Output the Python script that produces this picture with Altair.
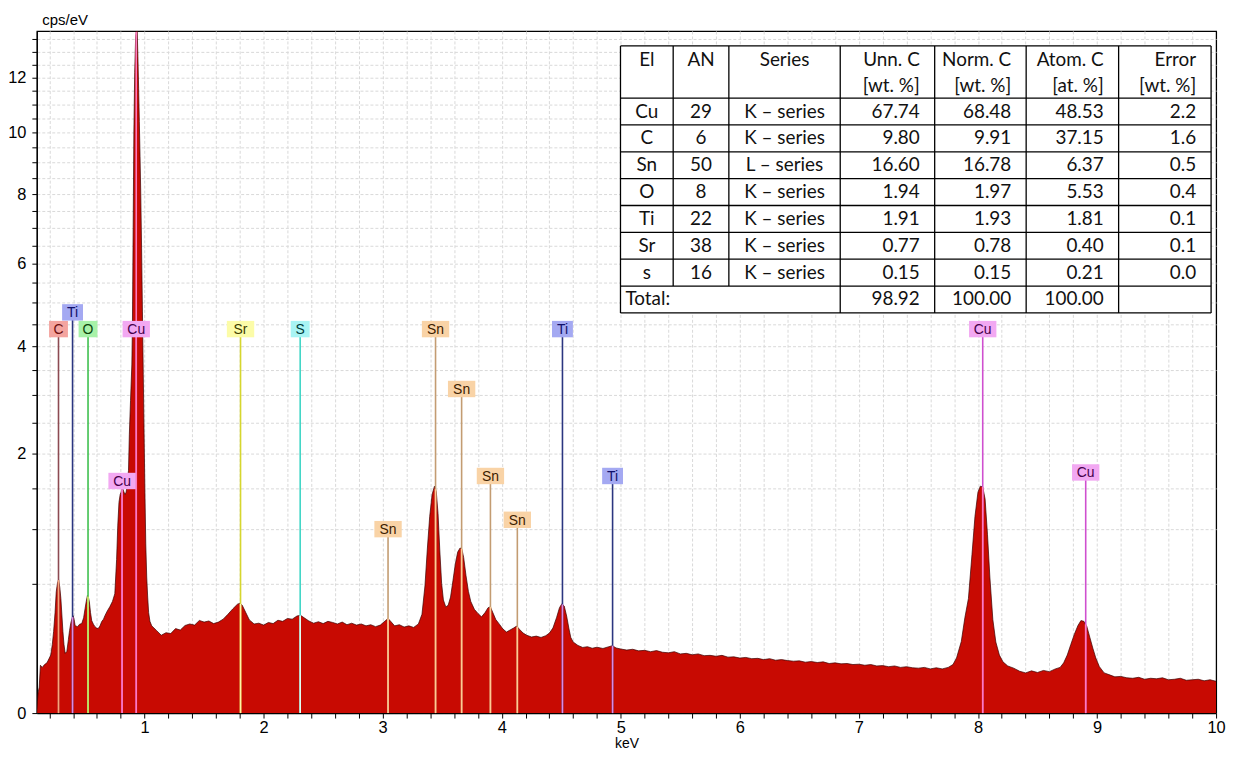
import altair as alt
import numpy as np
import pandas as pd

# ---------------- spectrum data ----------------
e_low = [0.095, 0.100, 0.105, 0.115, 0.125, 0.140, 0.160, 0.180, 0.200, 0.212,
         0.225, 0.236, 0.248, 0.258, 0.268, 0.278, 0.288, 0.297, 0.306, 0.314,
         0.323, 0.333, 0.347, 0.360, 0.370, 0.380, 0.390, 0.400, 0.408, 0.417,
         0.436, 0.455, 0.472, 0.488, 0.500, 0.510, 0.520, 0.528, 0.536, 0.546,
         0.556, 0.570, 0.583, 0.597, 0.610, 0.625, 0.640, 0.655, 0.667, 0.687,
         0.708, 0.730, 0.750]
c_low = [0.0, 0.004, 0.012, 0.020, 0.068, 0.062, 0.070, 0.075, 0.090, 0.100,
         0.140, 0.198, 0.300, 0.437, 0.500, 0.528, 0.470, 0.389, 0.280, 0.198,
         0.140, 0.106, 0.113, 0.160, 0.203, 0.240, 0.265, 0.282, 0.260, 0.227,
         0.222, 0.235, 0.238, 0.270, 0.324, 0.370, 0.410, 0.400, 0.369, 0.300,
         0.254, 0.235, 0.222, 0.215, 0.212, 0.225, 0.249, 0.262, 0.282, 0.310,
         0.336, 0.370, 0.423]

e_cul = [0.765, 0.775, 0.785, 0.795, 0.805, 0.815, 0.825, 0.835, 0.845, 0.855,
         0.865, 0.872, 0.882, 0.893, 0.898, 0.904, 0.910, 0.917, 0.925, 0.931,
         0.938, 0.944, 0.950, 0.956, 0.962, 0.968, 0.975, 0.982, 0.989, 0.996,
         1.003, 1.010, 1.018, 1.026, 1.034, 1.045]
c_cul = [0.70, 1.05, 1.32, 1.42, 1.46, 1.50, 1.46, 1.42, 1.45, 1.58,
         1.75, 2.30, 2.90, 3.60, 4.50, 7.00, 10.0, 12.2, 13.6, 13.82,
         13.82, 12.8, 11.6, 10.4, 9.2, 8.0, 6.4, 4.8, 3.4, 2.3,
         1.45, 0.85, 0.55, 0.40, 0.30, 0.25]

e_mid = [1.06, 1.10, 1.14, 1.18, 1.22, 1.26, 1.30, 1.34, 1.38, 1.42,
         1.46, 1.50, 1.54, 1.58, 1.62, 1.66, 1.70, 1.74, 1.78, 1.80,
         1.82, 1.85, 1.88, 1.92, 1.96, 2.00, 2.04, 2.08, 2.12, 2.16,
         2.20, 2.24, 2.28, 2.31, 2.34, 2.38, 2.42, 2.46, 2.50, 2.54,
         2.58, 2.62, 2.66, 2.70, 2.74, 2.78, 2.82, 2.86, 2.90, 2.94,
         2.98, 3.02, 3.045, 3.07, 3.10, 3.14, 3.18, 3.22, 3.26, 3.30]
c_mid = [0.226, 0.203, 0.180, 0.192, 0.188, 0.212, 0.205, 0.228, 0.236, 0.230,
         0.255, 0.246, 0.252, 0.238, 0.246, 0.262, 0.290, 0.322, 0.352, 0.358,
         0.346, 0.300, 0.258, 0.236, 0.240, 0.230, 0.244, 0.238, 0.256, 0.250,
         0.266, 0.262, 0.280, 0.284, 0.270, 0.252, 0.240, 0.248, 0.238, 0.250,
         0.244, 0.236, 0.246, 0.232, 0.240, 0.230, 0.236, 0.226, 0.232, 0.222,
         0.230, 0.252, 0.266, 0.248, 0.226, 0.232, 0.220, 0.226, 0.218, 0.236]

e_sn = [3.33, 3.355, 3.375, 3.395, 3.415, 3.435, 3.45, 3.465, 3.48, 3.495,
        3.51, 3.53, 3.55, 3.57, 3.59, 3.61, 3.63, 3.65, 3.665, 3.68,
        3.70, 3.72, 3.74, 3.77, 3.80, 3.83, 3.86, 3.885, 3.905, 3.925,
        3.95, 3.98, 4.01, 4.04, 4.07, 4.10, 4.125, 4.15, 4.18, 4.21,
        4.25, 4.29, 4.33, 4.37, 4.40, 4.43, 4.46, 4.485, 4.505, 4.525,
        4.545, 4.565, 4.58]
c_sn = [0.290, 0.48, 0.80, 1.15, 1.42, 1.53, 1.46, 1.18, 0.78, 0.50,
        0.38, 0.335, 0.345, 0.40, 0.52, 0.66, 0.77, 0.81, 0.80, 0.72,
        0.56, 0.44, 0.37, 0.32, 0.295, 0.275, 0.30, 0.33, 0.335, 0.30,
        0.26, 0.235, 0.21, 0.195, 0.205, 0.215, 0.225, 0.208, 0.190, 0.180,
        0.172, 0.176, 0.170, 0.178, 0.190, 0.215, 0.27, 0.33, 0.355, 0.34,
        0.28, 0.21, 0.17]

e_hi = [4.60, 4.64, 4.68, 4.72, 4.76, 4.80, 4.85, 4.90, 4.93, 4.96,
        5.00, 5.05, 5.10, 5.15, 5.20, 5.25, 5.30, 5.35, 5.40, 5.45,
        5.50, 5.55, 5.60, 5.65, 5.70, 5.75, 5.80, 5.85, 5.90, 5.95,
        6.00, 6.05, 6.10, 6.15, 6.20, 6.25, 6.30, 6.35, 6.40, 6.45,
        6.50, 6.55, 6.60, 6.65, 6.70, 6.75, 6.80, 6.85, 6.90, 6.95,
        7.00, 7.05, 7.10, 7.15, 7.20, 7.25, 7.30, 7.35, 7.40, 7.45,
        7.50, 7.55, 7.60, 7.65, 7.70, 7.75, 7.79]
c_hi = [0.150, 0.136, 0.128, 0.131, 0.125, 0.129, 0.124, 0.131, 0.135, 0.126,
        0.122, 0.118, 0.121, 0.115, 0.117, 0.112, 0.116, 0.110, 0.108, 0.112,
        0.104, 0.106, 0.101, 0.104, 0.098, 0.099, 0.096, 0.099, 0.093, 0.094,
        0.090, 0.092, 0.088, 0.089, 0.085, 0.088, 0.083, 0.085, 0.082, 0.080,
        0.081, 0.077, 0.079, 0.076, 0.078, 0.073, 0.075, 0.072, 0.073, 0.070,
        0.071, 0.068, 0.070, 0.066, 0.067, 0.064, 0.066, 0.062, 0.064, 0.061,
        0.060, 0.062, 0.058, 0.061, 0.058, 0.062, 0.070]

e_cuk = [7.82, 7.86, 7.89, 7.92, 7.95, 7.975, 8.00, 8.02, 8.04, 8.06,
         8.08, 8.10, 8.125, 8.15, 8.18, 8.21, 8.25, 8.30, 8.35, 8.40,
         8.45, 8.50, 8.55, 8.60, 8.65, 8.69, 8.72, 8.75, 8.78, 8.81,
         8.84, 8.865, 8.89, 8.915, 8.94, 8.965, 8.99, 9.02, 9.06, 9.10,
         9.15, 9.20, 9.25, 9.30, 9.35, 9.40, 9.45, 9.50, 9.55, 9.60,
         9.65, 9.70, 9.75, 9.80, 9.85, 9.90, 9.95, 10.0]
c_cuk = [0.090, 0.152, 0.270, 0.390, 0.750, 1.150, 1.450, 1.530, 1.520, 1.360,
         0.950, 0.550, 0.260, 0.150, 0.100, 0.078, 0.066, 0.060, 0.052, 0.048,
         0.053, 0.049, 0.054, 0.051, 0.058, 0.062, 0.075, 0.100, 0.140, 0.185,
         0.228, 0.254, 0.250, 0.222, 0.170, 0.125, 0.090, 0.064, 0.048, 0.044,
         0.039, 0.040, 0.037, 0.036, 0.038, 0.034, 0.036, 0.035, 0.037, 0.033,
         0.034, 0.036, 0.032, 0.033, 0.034, 0.031, 0.033, 0.030]

# ---------------- element lines ----------------
line_el = ["C", "Ti", "O", "Cu", "Cu", "Sr", "S", "Sn", "Sn", "Sn", "Sn", "Sn",
           "Ti", "Ti", "Cu", "Cu"]
line_energy = [0.277, 0.395, 0.525, 0.811, 0.930, 1.806, 2.307, 3.045, 3.444,
               3.663, 3.905, 4.131, 4.510, 4.931, 8.040, 8.905]
label_level = [4.38, 4.77, 4.38, 1.60, 4.38, 4.38, 4.38, 1.005, 4.38,
               3.12, 1.67, 1.11, 4.38, 1.67, 4.38, 1.72]

# ---------------- quantification table ----------------
tab_el = ["Cu", "C", "Sn", "O", "Ti", "Sr", "s"]
tab_an = ["29", "6", "50", "8", "22", "38", "16"]
tab_series = ["K – series", "K – series", "L – series", "K – series",
              "K – series", "K – series", "K – series"]
tab_unn = ["67.74", "9.80", "16.60", "1.94", "1.91", "0.77", "0.15"]
tab_norm = ["68.48", "9.91", "16.78", "1.97", "1.93", "0.78", "0.15"]
tab_atom = ["48.53", "37.15", "6.37", "5.53", "1.81", "0.40", "0.21"]
tab_err = ["2.2", "1.6", "0.5", "0.4", "0.1", "0.1", "0.0"]
tab_total = ["98.92", "100.00", "100.00", ""]
tab_head1 = ["El", "AN", "Series", "Unn. C", "Norm. C", "Atom. C", "Error"]
tab_head2 = ["", "", "", "[wt. %]", "[wt. %]", "[at. %]", "[wt. %]"]

# ---------------- styles / layout ----------------
W, H = 1186, 686
FONT_AX = "Liberation Sans, Arial, sans-serif"
FONT_TAB = "Lato, Open Sans, sans-serif"
style = {
    "C":  dict(box="#f4a49f", text="#6e0f0f", line="#8c4a52", inner="#f7a57a"),
    "Ti": dict(box="#a4a9f2", text="#10106a", line="#2b3680", inner="#d98be6"),
    "O":  dict(box="#a8f2a8", text="#0b440b", line="#3fc04f", inner="#d6f06a"),
    "Cu": dict(box="#f2a8f2", text="#45004a", line="#cf4fcf", inner="#ff7ac0"),
    "Sr": dict(box="#fcfca8", text="#3c3c00", line="#d6d62e", inner="#fff6a6"),
    "S":  dict(box="#a8f4f4", text="#003c3c", line="#3fd6c6", inner="#e6fff4"),
    "Sn": dict(box="#f9d3a6", text="#3c2000", line="#c39c72", inner="#ffca92"),
}


def box_path(el):
    hw = 1.9 if len(el) == 1 else (2.1 if el == "Ti" else 2.75)
    return f"M-{hw},-1.65L{hw},-1.65L{hw},1.65L-{hw},1.65Z"


spec = pd.DataFrame({"E": e_low + e_cul + e_mid + e_sn + e_hi + e_cuk,
                     "v": c_low + c_cul + c_mid + c_sn + c_hi + c_cuk})

mk = pd.DataFrame({"el": line_el, "E": line_energy, "level": label_level})
mk["base"] = 0.0
mk["inside"] = np.interp(mk["E"], spec["E"], spec["v"])
for k in ["box", "text", "line", "inner"]:
    mk[k] = mk["el"].map(lambda e, k=k: style[e][k])
mk["path"] = mk["el"].map(box_path)

xs = alt.Scale(domain=[0.095, 10.0], nice=False, zero=False)
ys = alt.Scale(type="sqrt", domain=[0, 13.82], nice=False)
x_ticks = [round(0.2 * i, 1) for i in range(1, 51)]
y_ticks = [0.5 * i for i in range(0, 28)]

grid_col_x = {"condition": {"test": "datum.value >= 9.99", "value": "black"}, "value": "#d9d9d9"}
grid_dash_x = {"condition": {"test": "datum.value >= 9.99", "value": []}, "value": [3, 2]}

xaxis = alt.Axis(values=x_ticks, tickCount=50,
                 labelExpr="abs(datum.value - round(datum.value)) < 0.001 ? format(datum.value, 'd') : ''",
                 labelFlush=False, labelOverlap=False, labelBound=False, grid=True,
                 gridColor=grid_col_x, gridDash=grid_dash_x,
                 tickSize=5, labelPadding=2, titlePadding=0,
                 labelFont=FONT_AX, labelFontSize=16.5, titleFont=FONT_AX,
                 titleFontSize=14, titleFontWeight="normal")
yaxis = alt.Axis(values=y_ticks, tickCount=28,
                 labelExpr="datum.value % 2 == 0 ? format(datum.value, 'd') : ''",
                 labelOverlap=False, labelBound=False, labelFlush=False, grid=True,
                 tickSize=5, labelPadding=6, labelAlign="right", labelBaseline="middle",
                 labelFont=FONT_AX, labelFontSize=16.5, titleFont=FONT_AX,
                 titleFontSize=15, titleFontWeight="normal",
                 titleAngle=0, titleAlign="left", titleBaseline="alphabetic",
                 titleX=5, titleY=-7)


def X(field="E"):
    return alt.X(f"{field}:Q", scale=xs, axis=xaxis, title="keV")


def Y(field):
    return alt.Y(f"{field}:Q", scale=ys, axis=yaxis, title="cps/eV")


area = alt.Chart(spec).mark_area(
    color="#c80a02", opacity=1, fillOpacity=1, clip=True, interpolate="linear",
    line={"color": "#3a0000", "strokeWidth": 0.7}
).encode(x=X(), y=Y("v"))

rule_out = alt.Chart(mk).mark_rule(strokeWidth=1.6).encode(
    x=X(), y=Y("base"), y2="level:Q", color=alt.Color("line:N", scale=None))
rule_in = alt.Chart(mk).mark_rule(strokeWidth=1.6).encode(
    x=X(), y=Y("base"), y2="inside:Q", color=alt.Color("inner:N", scale=None))
boxes = alt.Chart(mk).mark_point(filled=True, size=100, opacity=1, strokeWidth=0).encode(
    x=X(), y=Y("level"),
    shape=alt.Shape("path:N", scale=None),
    color=alt.Color("box:N", scale=None))
labels = alt.Chart(mk).mark_text(font="Liberation Sans, Arial, sans-serif", fontSize=14,
                                 baseline="middle", align="center", dy=1).encode(
    x=X(), y=Y("level"), text="el:N",
    color=alt.Color("text:N", scale=None))

plot = alt.layer(area, rule_out, rule_in, boxes, labels)

# ---------------- table layer ----------------
col_w = [53, 56, 112, 95, 92, 93, 93]
col_edges = [0.0] + [float(v) for v in np.cumsum(col_w)]
header_h, row_h = 52.5, 27.0
n_rows = len(tab_el) + 1
row_edges = [0.0, header_h] + [header_h + row_h * (i + 1) for i in range(n_rows)]
T_W, T_H = col_edges[-1], row_edges[-1]
T_LEFT, T_TOP = 587.0, 15.0
pad_r = 15.0

tx = alt.Scale(domain=[0, T_W], range=[T_LEFT, T_LEFT + T_W])
ty = alt.Scale(domain=[0, T_H], range=[T_TOP, T_TOP + T_H])

bg = pd.DataFrame({"x0": [0.0], "x1": [T_W], "y0": [0.0], "y1": [T_H]})
hl = pd.DataFrame({"y": row_edges, "x0": 0.0, "x1": T_W})
vl = pd.DataFrame({"x": col_edges,
                   "y0": 0.0,
                   "y1": [T_H if i not in (1, 2) else row_edges[-2] for i in range(len(col_edges))]})

rows = []
for j in range(7):
    if j < 3:
        xc, al = (col_edges[j] + col_edges[j + 1]) / 2, "center"
    else:
        xc, al = col_edges[j + 1] - pad_r, "right"
    rows.append((xc, 14.0, tab_head1[j], al))
    if tab_head2[j]:
        rows.append((xc, 40.0, tab_head2[j], al))
    cols = [tab_el, tab_an, tab_series, tab_unn, tab_norm, tab_atom, tab_err][j]
    for i, val in enumerate(cols):
        rows.append((xc, header_h + row_h * i + row_h / 2, val, al))
    if j >= 3 and tab_total[j - 3]:
        rows.append((xc, header_h + row_h * len(tab_el) + row_h / 2, tab_total[j - 3], al))
rows.append((5.0, header_h + row_h * len(tab_el) + row_h / 2, "Total:", "left"))
tt = pd.DataFrame(rows, columns=["x", "y", "t", "al"])

t_bg = alt.Chart(bg).mark_rect(fill="white").encode(
    x=alt.X("x0:Q", scale=tx, axis=None), x2="x1:Q",
    y=alt.Y("y0:Q", scale=ty, axis=None), y2="y1:Q")
t_h = alt.Chart(hl).mark_rule(color="black", strokeWidth=1.3).encode(
    x=alt.X("x0:Q", scale=tx, axis=None), x2="x1:Q",
    y=alt.Y("y:Q", scale=ty, axis=None))
t_v = alt.Chart(vl).mark_rule(color="black", strokeWidth=1.3).encode(
    x=alt.X("x:Q", scale=tx, axis=None),
    y=alt.Y("y0:Q", scale=ty, axis=None), y2="y1:Q")
t_txt = []
for al in ["center", "right", "left"]:
    t_txt.append(
        alt.Chart(tt[tt["al"] == al]).mark_text(font=FONT_TAB, fontSize=19, align=al,
                                                baseline="middle", color="#111111").encode(
            x=alt.X("x:Q", scale=tx, axis=None),
            y=alt.Y("y:Q", scale=ty, axis=None), text="t:N"))

table = alt.layer(t_bg, t_h, t_v, *t_txt)

chart = alt.layer(plot, table).resolve_scale(x="independent", y="independent").properties(
    width=W, height=H,
    padding={"left": 29, "top": 21, "right": 12, "bottom": 37},
    autosize=alt.AutoSizeParams(type="none"),
    background="white",
).configure_view(stroke="black", strokeWidth=1.2).configure_axis(
    domainColor="black", domainWidth=1.2, tickColor="black", tickWidth=1,
    labelColor="black", titleColor="black",
    gridColor="#d9d9d9", gridDash=[3, 2], gridWidth=1,
)

chart.save("out.html", embed_options={"renderer": "svg", "actions": False})
